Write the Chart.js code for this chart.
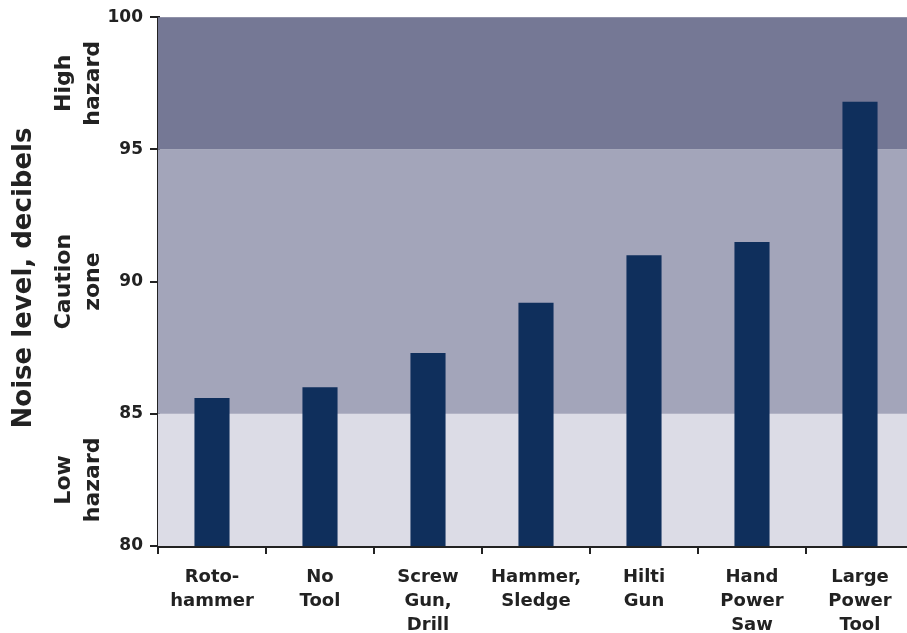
<!DOCTYPE html>
<html>
<head>
<meta charset="utf-8">
<script src="https://cdn.jsdelivr.net/npm/chart.js@4/dist/chart.umd.min.js"></script>
<style>
  html, body { margin: 0; padding: 0; background: #fff; overflow: hidden; }
  #wrap { width: 914px; height: 633px; }
</style>
</head>
<body>
<div id="wrap"><canvas id="noise"></canvas></div>
<script>
// data
const tools = [["Roto-", "hammer"], ["No", "Tool"], ["Screw", "Gun,", "Drill"], ["Hammer,", "Sledge"],
               ["Hilti", "Gun"], ["Hand", "Power", "Saw"], ["Large", "Power", "Tool"]];
const decibels = [85.6, 86.0, 87.3, 89.2, 91.0, 91.5, 96.8];
const yTicks = [80, 85, 90, 95, 100];
const zoneEdges = [80, 85, 95, 100];
const zoneNames = [["Low", "hazard"], ["Caution", "zone"], ["High", "hazard"]];
const zoneColors = ["#dcdce6", "#a3a5ba", "#757895"];

const FONT = "'DejaVu Sans', sans-serif";
const INK = "#222222";

// shaded bands behind the bars + side labels
const zones = {
  id: 'zones',
  beforeDatasetsDraw(chart) {
    const { ctx, chartArea, scales: { y } } = chart;
    ctx.save();
    for (let i = 0; i < zoneNames.length; i++) {
      const top = y.getPixelForValue(zoneEdges[i + 1]);
      const bot = y.getPixelForValue(zoneEdges[i]);
      ctx.fillStyle = zoneColors[i];
      ctx.fillRect(chartArea.left, top, chartArea.right - chartArea.left, bot - top);
    }
    ctx.restore();
  },
  afterDraw(chart) {
    const { ctx, scales: { y } } = chart;
    ctx.save();
    ctx.fillStyle = INK;
    ctx.textAlign = 'center';
    ctx.textBaseline = 'alphabetic';
    // axis title
    ctx.save();
    ctx.translate(31, 278);
    ctx.rotate(-Math.PI / 2);
    ctx.font = "bold 26px " + FONT;
    ctx.fillText("Noise level, decibels", 0, 0);
    ctx.restore();
    // zone labels
    ctx.font = "bold 22px " + FONT;
    for (let i = 0; i < zoneNames.length; i++) {
      const mid = y.getPixelForValue((zoneEdges[i] + zoneEdges[i + 1]) / 2);
      ctx.save();
      ctx.translate(70, mid);
      ctx.rotate(-Math.PI / 2);
      ctx.fillText(zoneNames[i][0], 0, 0);
      ctx.fillText(zoneNames[i][1], 0, 29);
      ctx.restore();
    }
    ctx.restore();
  }
};

new Chart(document.getElementById("noise"), {
  type: 'bar',
  data: {
    labels: tools,
    datasets: [{
      data: decibels,
      backgroundColor: "#0f2f5c",
      categoryPercentage: 1,
      barPercentage: 0.325
    }]
  },
  options: {
    responsive: true,
    maintainAspectRatio: false,
    animation: false,
    layout: { padding: { top: 12, right: 0, left: 0, bottom: 0 } },
    plugins: { legend: { display: false }, tooltip: { enabled: false } },
    scales: {
      x: {
        grid: { offset: true, drawOnChartArea: false, drawTicks: true, tickLength: 8, color: INK, lineWidth: 2 },
        border: { display: true, color: INK, width: 3 },
        ticks: {
          color: INK, padding: 11, maxRotation: 0, autoSkip: false,
          font: { family: FONT, weight: 'bold', size: 18, lineHeight: 1.33 }
        },
        afterFit(scale) { scale.height = 87; }
      },
      y: {
        min: 80, max: 100,
        afterBuildTicks(scale) { scale.ticks = yTicks.map(v => ({ value: v })); },
        grid: { drawOnChartArea: false, drawTicks: true, tickLength: 8, color: INK, lineWidth: 2 },
        border: { display: true, color: INK, width: 3 },
        ticks: {
          color: INK, padding: 7,
          font: { family: FONT, weight: 'bold', size: 17 }
        },
        afterFit(scale) { scale.width = 158; }
      }
    }
  },
  plugins: [zones]
});
</script>
</body>
</html>
